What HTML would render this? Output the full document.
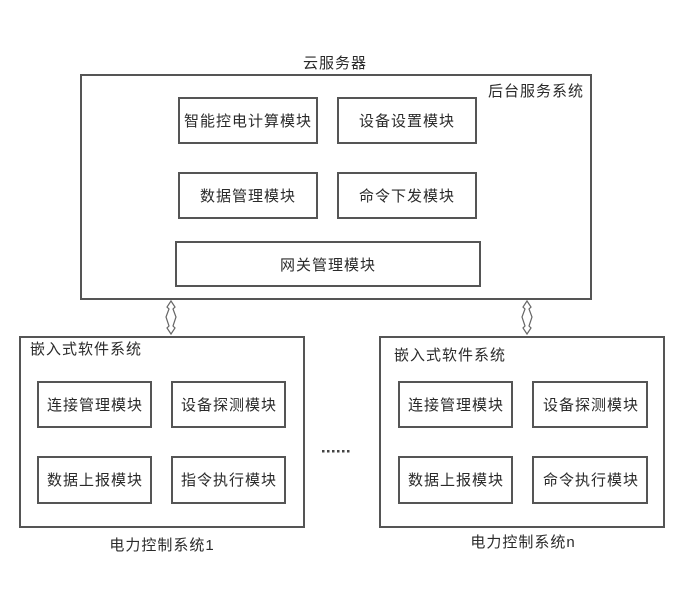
<!DOCTYPE html>
<html><head><meta charset="utf-8"><style>
html,body{margin:0;padding:0;background:#fff;}
svg text{font-family:"Liberation Sans","Noto Sans CJK SC",sans-serif;font-size:15px;letter-spacing:1px;fill:#2a2a2a;}
</style></head><body>
<svg width="695" height="584" viewBox="0 0 695 584" xmlns="http://www.w3.org/2000/svg">
<g fill="none" stroke="#555" stroke-width="2">
<rect x="81" y="75" width="510" height="224"/>
<rect x="179" y="98" width="138" height="45"/>
<rect x="338" y="98" width="138" height="45"/>
<rect x="179" y="173" width="138" height="45"/>
<rect x="338" y="173" width="138" height="45"/>
<rect x="176" y="242" width="304" height="44"/>
<rect x="20" y="337" width="284" height="190"/>
<rect x="38" y="382" width="113" height="45"/>
<rect x="172" y="382" width="113" height="45"/>
<rect x="38" y="457" width="113" height="46"/>
<rect x="172" y="457" width="113" height="46"/>
<rect x="380" y="337" width="284" height="190"/>
<rect x="399" y="382" width="113" height="45"/>
<rect x="533" y="382" width="114" height="45"/>
<rect x="399" y="457" width="113" height="46"/>
<rect x="533" y="457" width="114" height="46"/>
</g>
<g fill="none" stroke="#666" stroke-width="1.2">
<polygon points="171,301 175,307 173,309 176,317 173,326 175,328 171,334 167,328 169,326 166,317 169,309 167,307"/>
<polygon points="527,301 531,307 529,309 532,317 529,326 531,328 527,334 523,328 525,326 522,317 525,309 523,307"/>
</g>
<g fill="#444">
<rect x="322" y="450" width="2.5" height="2.5"/><rect x="327" y="450" width="2.5" height="2.5"/><rect x="332" y="450" width="2.5" height="2.5"/><rect x="337" y="450" width="2.5" height="2.5"/><rect x="342" y="450" width="2.5" height="2.5"/><rect x="347" y="450" width="2.5" height="2.5"/>
</g>
<text x="335" y="68" text-anchor="middle">云服务器</text>
<text x="536" y="96" text-anchor="middle">后台服务系统</text>
<text x="248" y="126" text-anchor="middle">智能控电计算模块</text>
<text x="407" y="126" text-anchor="middle">设备设置模块</text>
<text x="248" y="201" text-anchor="middle">数据管理模块</text>
<text x="407" y="201" text-anchor="middle">命令下发模块</text>
<text x="328" y="270" text-anchor="middle">网关管理模块</text>
<text x="30" y="354">嵌入式软件系统</text>
<text x="95" y="410" text-anchor="middle">连接管理模块</text>
<text x="229" y="410" text-anchor="middle">设备探测模块</text>
<text x="95" y="485" text-anchor="middle">数据上报模块</text>
<text x="229" y="485" text-anchor="middle">指令执行模块</text>
<text x="162" y="550" text-anchor="middle">电力控制系统1</text>
<text x="394" y="360">嵌入式软件系统</text>
<text x="456" y="410" text-anchor="middle">连接管理模块</text>
<text x="591" y="410" text-anchor="middle">设备探测模块</text>
<text x="456" y="485" text-anchor="middle">数据上报模块</text>
<text x="591" y="485" text-anchor="middle">命令执行模块</text>
<text x="523" y="547" text-anchor="middle">电力控制系统n</text>
</svg>
</body></html>
